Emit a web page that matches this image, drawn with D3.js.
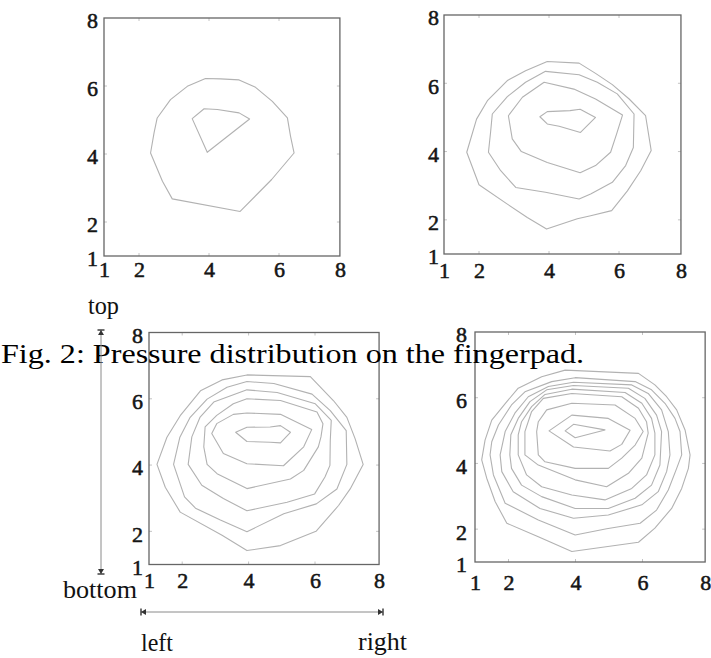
<!DOCTYPE html>
<html>
<head>
<meta charset="utf-8">
<script src="https://cdn.jsdelivr.net/npm/d3@7"></script>
<style>
  html, body { margin: 0; padding: 0; background: #fff; }
  svg { display: block; }
</style>
</head>
<body>
<svg id="chart" width="711" height="658"></svg>
<script>
// ---------------- data ----------------
const xTicks = [1, 2, 4, 6, 8];
const yTicks = [1, 2, 4, 6, 8];

const caption = "Fig. 2: Pressure distribution on the fingerpad.";
const dirLabels = ["top", "bottom", "left", "right"];

// Panel 1 (top-left): 2 contour levels
const p1Contours = [
  [[3.90,6.22],[4.33,6.21],[4.86,6.18],[5.33,5.96],[5.81,5.55],[6.24,5.06],[6.33,4.52],[6.43,4.03],[5.79,3.25],[4.89,2.31],[2.95,2.68],[2.67,3.20],[2.33,4.03],[2.43,4.62],[2.52,5.06],[2.90,5.60],[3.38,5.99]],
  [[3.52,5.04],[3.86,5.33],[4.24,5.31],[4.86,5.21],[5.16,5.03],[3.95,4.05]]
];

// Panel 2 (top-right): 4 contour levels
const p2Contours = [
  [[3.95,6.64],[4.86,6.59],[5.33,6.29],[5.81,5.96],[6.29,5.54],[6.76,5.05],[6.92,4.03],[6.62,3.44],[6.24,2.85],[5.79,2.27],[5.19,2.12],[4.81,2.03],[3.93,1.73],[3.38,2.07],[2.81,2.46],[2.00,3.03],[1.65,3.98],[1.93,4.95],[2.24,5.49],[2.81,6.08],[3.33,6.37]],
  [[3.90,6.35],[4.86,6.25],[5.38,6.03],[5.95,5.69],[6.43,5.10],[6.41,4.12],[6.19,3.59],[5.81,3.10],[5.19,2.76],[4.86,2.61],[3.90,2.81],[3.05,2.95],[2.62,3.44],[2.27,3.98],[2.33,4.56],[2.38,5.10],[2.81,5.61],[3.33,6.03]],
  [[3.86,6.03],[4.71,5.83],[5.33,5.54],[6.10,5.07],[5.93,4.51],[5.76,3.98],[5.33,3.59],[4.89,3.38],[3.95,3.68],[3.21,4.00],[2.95,4.37],[2.84,5.05],[3.24,5.59]],
  [[3.74,5.02],[3.95,5.17],[4.60,5.20],[4.89,5.24],[5.33,5.00],[4.90,4.56],[4.29,4.74],[3.95,4.81]]
];

// Panel 3 (bottom-left): 6 contour levels
const p3Contours = [
  [[3.95,6.72],[5.86,6.67],[6.56,5.94],[6.96,5.44],[7.21,4.79],[7.45,4.02],[7.06,3.28],[6.71,2.78],[6.03,2.00],[4.96,1.57],[3.95,1.42],[3.20,1.88],[1.94,2.58],[1.49,3.33],[1.24,4.02],[1.54,4.84],[1.94,5.49],[2.55,6.24],[3.20,6.57]],
  [[3.95,6.52],[4.76,6.46],[5.91,6.14],[6.46,5.64],[6.94,5.04],[6.96,4.02],[6.66,3.28],[6.04,2.83],[5.06,2.53],[3.95,1.99],[3.15,2.34],[2.40,2.70],[2.07,3.04],[1.74,4.02],[1.93,4.84],[2.24,5.44],[2.75,5.99],[3.35,6.35]],
  [[3.95,6.27],[4.86,6.19],[6.01,5.85],[6.49,5.35],[6.46,4.74],[6.45,3.99],[6.30,3.64],[5.99,3.13],[5.16,2.88],[3.95,2.62],[3.24,2.99],[2.59,3.39],[2.18,4.02],[2.29,4.85],[2.54,5.45],[2.95,5.90]],
  [[3.95,6.00],[4.96,5.95],[6.06,5.60],[6.24,5.25],[6.18,4.85],[6.10,4.55],[5.66,3.84],[5.26,3.58],[3.95,3.29],[3.05,3.74],[2.75,4.02],[2.65,4.55],[2.69,5.15],[3.04,5.50],[3.54,5.85]],
  [[3.54,5.53],[3.95,5.57],[4.96,5.53],[5.90,5.07],[5.66,4.55],[5.05,3.98],[3.95,4.04],[3.24,4.35],[2.89,4.95],[3.04,5.25]],
  [[3.61,4.99],[3.95,5.14],[4.65,5.15],[4.96,5.19],[5.26,4.99],[4.96,4.67],[4.65,4.69],[3.95,4.71]]
];

// Panel 4 (bottom-right): 9 contour levels
const p4Contours = [
  [[3.69,6.84],[5.88,6.74],[6.37,6.39],[6.72,6.03],[7.02,5.63],[7.27,5.02],[7.42,4.26],[7.37,3.85],[7.17,3.24],[6.87,2.63],[6.37,2.03],[5.88,1.60],[3.89,1.32],[2.89,1.77],[1.95,2.18],[1.60,2.84],[1.35,3.55],[1.20,4.11],[1.30,4.71],[1.50,5.32],[1.95,5.88],[2.29,6.29],[2.99,6.64]],
  [[3.99,6.61],[5.78,6.49],[6.27,6.24],[6.67,5.83],[6.97,5.37],[7.12,4.97],[7.17,4.26],[7.02,3.85],[6.77,3.19],[6.42,2.58],[5.93,2.18],[4.93,2.01],[3.99,1.82],[2.89,2.28],[1.90,2.79],[1.55,3.65],[1.45,4.26],[1.50,4.66],[1.70,5.17],[2.09,5.78],[2.49,6.18],[3.29,6.49]],
  [[3.94,6.47],[5.68,6.39],[6.17,6.13],[6.57,5.63],[6.77,4.97],[6.82,4.26],[6.72,3.75],[6.47,3.14],[5.98,2.74],[4.98,2.43],[3.94,2.33],[2.94,2.63],[2.14,3.14],[1.80,3.75],[1.75,4.26],[1.90,4.97],[2.19,5.53],[2.59,6.03],[3.19,6.34]],
  [[3.94,6.37],[5.58,6.29],[6.07,5.98],[6.42,5.47],[6.57,4.97],[6.52,3.95],[6.27,3.34],[5.78,2.94],[4.98,2.63],[3.99,2.63],[2.99,2.99],[2.39,3.34],[2.09,3.85],[2.04,4.26],[2.07,4.87],[2.29,5.37],[2.64,5.88],[3.14,6.24]],
  [[3.89,6.26],[5.48,6.16],[5.98,5.83],[6.27,5.37],[6.37,4.92],[6.37,4.26],[6.12,3.65],[5.68,3.24],[4.88,2.89],[3.89,3.04],[2.99,3.29],[2.54,3.65],[2.29,4.26],[2.29,4.87],[2.39,5.27],[2.69,5.73],[3.09,6.10]],
  [[3.89,6.13],[5.38,6.03],[5.88,5.68],[6.12,5.27],[6.17,4.92],[5.98,4.16],[5.58,3.70],[4.93,3.29],[3.99,3.50],[2.89,3.95],[2.49,4.26],[2.49,4.97],[2.69,5.58],[3.04,5.98]],
  [[3.89,5.83],[5.18,5.78],[5.78,5.37],[6.02,4.97],[5.78,4.56],[5.38,4.16],[4.98,3.85],[3.99,3.85],[3.09,4.05],[2.89,4.26],[2.84,4.97],[2.89,5.27],[3.14,5.63]],
  [[3.21,4.99],[3.89,5.47],[4.98,5.37],[5.63,5.01],[5.38,4.58],[5.03,4.38],[3.94,4.50]],
  [[3.69,4.99],[3.94,5.19],[4.88,5.02],[3.99,4.78]]
];

// ---------------- layout ----------------
const panels = [
  { contours: p1Contours, left: 104, right8: 349, xMax: 7.74, top: 18,  bottom: 256, xPad: 5,  yPad: 6 },
  { contours: p2Contours, left: 444, right8: 689, xMax: 7.77, top: 15,  bottom: 254, xPad: 8,  yPad: 5 },
  { contours: p3Contours, left: 149, right8: 381.4, xMax: 7.93, top: 332.5, bottom: 564.5, xPad: 8, yPad: 6 },
  { contours: p4Contours, left: 475, right8: 709.5, xMax: 7.87, top: 332, bottom: 562, xPad: 12, yPad: 8 }
];

const svg = d3.select("#chart");
const serif = "'Liberation Serif', 'DejaVu Serif', serif";

panels.forEach(p => {
  const x = d3.scaleLinear().domain([1, 8]).range([p.left, p.right8]);
  const y = d3.scaleLinear().domain([1, 8]).range([p.bottom, p.top]);
  const xAxisScale = d3.scaleLinear().domain([1, p.xMax]).range([x(1), x(p.xMax)]).clamp(true);

  const g = svg.append("g");

  // contour lines
  const line = d3.line().x(d => x(d[0])).y(d => y(d[1])).curve(d3.curveLinearClosed);
  g.selectAll("path.contour").data(p.contours).join("path")
    .attr("class", "contour")
    .attr("d", line)
    .attr("fill", "none")
    .attr("stroke", "#b2b2b2")
    .attr("stroke-width", 1.1)
    .attr("stroke-linejoin", "round");

  // minor inner ticks on the frame
  const innerT = [2, 4, 6];
  innerT.forEach(v => {
    g.append("line").attr("x1", x(v)).attr("x2", x(v)).attr("y1", y(1)).attr("y2", y(1) - 3).attr("stroke", "#c4c4c4");
    g.append("line").attr("x1", x(v)).attr("x2", x(v)).attr("y1", y(8)).attr("y2", y(8) + 3).attr("stroke", "#c4c4c4");
    g.append("line").attr("x1", x(1)).attr("x2", x(1) + 3).attr("y1", y(v)).attr("y2", y(v)).attr("stroke", "#c4c4c4");
    g.append("line").attr("x1", x(p.xMax)).attr("x2", x(p.xMax) - 3).attr("y1", y(v)).attr("y2", y(v)).attr("stroke", "#c4c4c4");
  });

  // frame
  g.append("rect")
    .attr("x", x(1)).attr("y", y(8))
    .attr("width", x(p.xMax) - x(1))
    .attr("height", y(1) - y(8))
    .attr("fill", "none")
    .attr("stroke", "#666")
    .attr("stroke-width", 1.3);

  // axes (labels only)
  const xa = g.append("g").attr("transform", `translate(0,${y(1)})`)
    .call(d3.axisBottom(xAxisScale).tickValues(xTicks).tickSize(0).tickPadding(p.xPad).tickFormat(d3.format("d")));
  const ya = g.append("g").attr("transform", `translate(${x(1)},0)`)
    .call(d3.axisLeft(y).tickValues(yTicks).tickSize(0).tickPadding(p.yPad).tickFormat(d3.format("d")));
  [xa, ya].forEach(a => {
    a.select(".domain").remove();
    a.attr("font-family", null).attr("font-size", null);
    a.selectAll("text")
      .attr("fill", "#151515")
      .attr("stroke", "#151515")
      .attr("stroke-width", 0.55)
      .style("font-family", serif)
      .style("font-size", "22px");
  });
  ya.selectAll("text").attr("dy", "0.45em");
});

// caption
svg.append("text")
  .attr("x", 1).attr("y", 363)
  .attr("textLength", 583)
  .attr("lengthAdjust", "spacingAndGlyphs")
  .style("font-family", serif)
  .style("font-size", "28px")
  .attr("fill", "#000")
  .text(caption);

// orientation labels
const lab = (txt, xx, yy, anchor, len) => svg.append("text")
  .attr("x", xx).attr("y", yy)
  .attr("text-anchor", anchor)
  .attr("textLength", len).attr("lengthAdjust", "spacingAndGlyphs")
  .style("font-family", serif).style("font-size", "25px")
  .attr("fill", "#111").text(txt);
lab(dirLabels[0], 88, 314, "start", 31);
lab(dirLabels[1], 63, 598, "start", 74);
lab(dirLabels[2], 141, 651, "start", 32);
lab(dirLabels[3], 358, 650, "start", 49);

// orientation arrows
const arrowColor = "#8a8a8a";
function endMark(xx, yy, dir) {
  const [dx, dy] = dir;
  const px = -dy, py = dx;
  svg.append("line")
    .attr("x1", xx + px * 3.5).attr("y1", yy + py * 3.5)
    .attr("x2", xx - px * 3.5).attr("y2", yy - py * 3.5)
    .attr("stroke", "#333").attr("stroke-width", 1.4);
  const bx = xx - dx * 5, by = yy - dy * 5;
  svg.append("path")
    .attr("d", `M${xx},${yy}L${bx + px * 3},${by + py * 3}L${bx - px * 3},${by - py * 3}Z`)
    .attr("fill", "#333");
}
svg.append("line").attr("x1", 101).attr("x2", 101).attr("y1", 330).attr("y2", 574)
  .attr("stroke", arrowColor).attr("stroke-width", 1);
endMark(101, 330, [0, -1]);
endMark(101, 574, [0, 1]);
svg.append("line").attr("x1", 141).attr("x2", 383).attr("y1", 612).attr("y2", 612)
  .attr("stroke", arrowColor).attr("stroke-width", 1);
endMark(141, 612, [-1, 0]);
endMark(383, 612, [1, 0]);
</script>
</body>
</html>
